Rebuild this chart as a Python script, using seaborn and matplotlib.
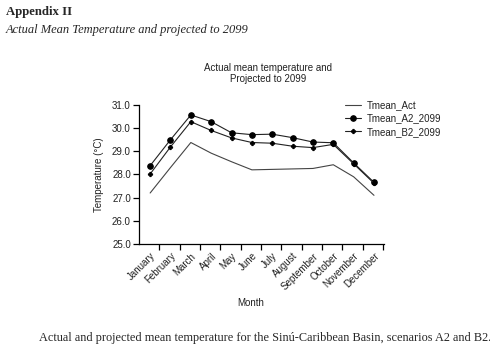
import numpy as np
import pandas as pd
import matplotlib
matplotlib.use("Agg")
import matplotlib.pyplot as plt
import seaborn as sns

months = ["January", "February", "March", "April", "May", "June", "July",
          "August", "September", "October", "November", "December"]
tmean_act = [27.2, 28.3, 29.38, 28.92, 28.55, 28.2, 28.22, 28.24, 28.26, 28.42, 27.9, 27.1]
tmean_a2 = [28.38, 29.5, 30.57, 30.28, 29.8, 29.72, 29.74, 29.59, 29.4, 29.37, 28.5, 27.66]
tmean_b2 = [28.02, 29.19, 30.28, 29.9, 29.58, 29.38, 29.35, 29.22, 29.16, 29.3, 28.46, 27.62]
yticks = [25.0, 26.0, 27.0, 28.0, 29.0, 30.0, 31.0]

sns.set_style("white")
plt.rcParams['font.family'] = ['Liberation Sans', 'DejaVu Sans']

fig = plt.figure(figsize=(4.9, 3.5), dpi=100)
ax = fig.add_axes([0.284, 0.303, 0.50, 0.397])

x = np.arange(len(months))
df = pd.DataFrame({"x": x, "Tmean_Act": tmean_act, "Tmean_A2_2099": tmean_a2,
                   "Tmean_B2_2099": tmean_b2})

sns.lineplot(data=df, x="x", y="Tmean_Act", ax=ax, color="#444444", lw=0.8,
             label="Tmean_Act")
sns.lineplot(data=df, x="x", y="Tmean_A2_2099", ax=ax, color="#222222", lw=0.8,
             marker="o", markersize=4, markeredgecolor="black", markerfacecolor="black",
             label="Tmean_A2_2099")
sns.lineplot(data=df, x="x", y="Tmean_B2_2099", ax=ax, color="#222222", lw=0.8,
             marker="P", markersize=3.0, markeredgecolor="black", markerfacecolor="black",
             label="Tmean_B2_2099")

ax.set_xlim(-0.54, 11.5)
ax.set_ylim(25, 31)
ax.set_yticks(yticks)
ax.set_yticklabels([f"{v:.1f}" for v in yticks])
ax.set_xticks(x)
ax.set_xticklabels(months, rotation=45, ha="right", rotation_mode="anchor")
ax.set_xticks(x + 0.45, minor=True)
ax.tick_params(axis="x", which="major", length=0, pad=5, labelsize=7, colors="#222222")
ax.tick_params(axis="x", which="minor", length=4, width=0.9, direction="out", color="black")
ax.tick_params(axis="y", length=4, width=0.9, direction="out", labelsize=7, pad=2,
               colors="#222222", left=True)
ax.tick_params(axis="y", colors="black", labelcolor="#222222")
ax.tick_params(axis="x", which="minor", bottom=True)
for s in ["top", "right"]:
    ax.spines[s].set_visible(False)
for s in ["left", "bottom"]:
    ax.spines[s].set_color("black")
    ax.spines[s].set_linewidth(0.9)

ax.set_xlabel("Month", fontsize=7, color="#222222", labelpad=6)
ax.set_ylabel("Temperature (\u00b0C)", fontsize=7, color="#222222", labelpad=6)
ax.xaxis.set_label_coords(0.455, -0.39)

leg = ax.legend(loc="upper left", bbox_to_anchor=(0.695, 0.728), bbox_transform=fig.transFigure,
                frameon=False, fontsize=7, handlelength=1.6, handletextpad=0.6,
                labelspacing=0.35, borderpad=0)
for t in leg.get_texts():
    t.set_color("#222222")

fig.text(0.547, 0.79, "Actual mean temperature and\nProjected to 2099", ha="center",
         va="center", fontsize=7, color="#222222", linespacing=1.1)

serif = ['Liberation Serif', 'DejaVu Serif']
fig.text(0.012, 0.965, "Appendix II", fontsize=9.2, fontweight="bold", family=serif,
         va="center", ha="left")
fig.text(0.012, 0.913, "Actual Mean Temperature and projected to 2099", fontsize=9,
         style="italic", family=serif, va="center", ha="left")
fig.text(0.08, 0.035, "Actual and projected mean temperature for the Sin\u00fa-Caribbean Basin, scenarios A2 and B2.",
         fontsize=8.8, family=serif, va="center", ha="left")

fig.savefig("out.png", dpi=100)
